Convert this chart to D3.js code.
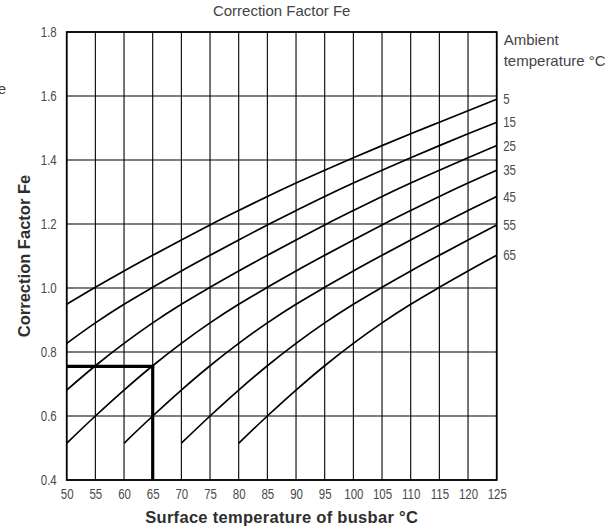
<!DOCTYPE html>
<html>
<head>
<meta charset="utf-8">
<script src="https://cdn.jsdelivr.net/npm/d3@7"></script>
<style>
  html, body { margin: 0; padding: 0; background: #fff; }
  svg { display: block; }
  .tick text, .narrow { font-family: "Liberation Sans", Arial, sans-serif; font-size: 14px; fill: #4a4a4a; }
</style>
</head>
<body>
<div id="chart"></div>
<script>
// correction factor fe vs surface temperature, one curve per ambient temperature

const surfaceTemps = [50, 55, 60, 65, 70, 75, 80, 85, 90, 95, 100, 105, 110, 115, 120, 125];
const feTicks = [0.4, 0.6, 0.8, 1.0, 1.2, 1.4, 1.6, 1.8];
const ambientTemps = [5, 15, 25, 35, 45, 55, 65];
const curveStart = [50, 50, 50, 50, 60, 70, 80];

// values, one per surface temp from the curve start
const fe05 = [0.949, 1.002, 1.053, 1.102, 1.150, 1.197, 1.242, 1.286, 1.328, 1.368, 1.407, 1.445, 1.482, 1.518, 1.554, 1.590];
const fe15 = [0.827, 0.891, 0.949, 1.002, 1.053, 1.102, 1.150, 1.197, 1.242, 1.286, 1.328, 1.368, 1.407, 1.445, 1.482, 1.518];
const fe25 = [0.681, 0.757, 0.827, 0.891, 0.949, 1.002, 1.053, 1.102, 1.150, 1.197, 1.242, 1.286, 1.328, 1.368, 1.407, 1.445];
const fe35 = [0.515, 0.600, 0.681, 0.757, 0.827, 0.891, 0.949, 1.002, 1.053, 1.102, 1.150, 1.197, 1.242, 1.286, 1.328, 1.368];
const fe45 = [0.515, 0.600, 0.681, 0.757, 0.827, 0.891, 0.949, 1.002, 1.053, 1.102, 1.150, 1.197, 1.242, 1.286];
const fe55 = [0.515, 0.600, 0.681, 0.757, 0.827, 0.891, 0.949, 1.002, 1.053, 1.102, 1.150, 1.197];
const fe65 = [0.515, 0.600, 0.681, 0.757, 0.827, 0.891, 0.949, 1.002, 1.053, 1.102];
const feSeries = [fe05, fe15, fe25, fe35, fe45, fe55, fe65];

// worked example drawn with thick lines
const exampleTs = 65;
const exampleFe = 0.755;

const W = 612, H = 529;
const margin = { top: 32, right: 115.3, bottom: 49, left: 66.7 };
const squeeze = 0.82; // condensed look for the small numbers

const svg = d3.select("#chart").append("svg")
  .attr("width", W)
  .attr("height", H);

svg.append("rect").attr("width", W).attr("height", H).attr("fill", "#fff");

const x = d3.scaleLinear()
  .domain([50, 125])
  .range([margin.left, W - margin.right]);

const y = d3.scaleLinear()
  .domain([0.4, 1.8])
  .range([H - margin.bottom, margin.top]);

// grid
const grid = svg.append("g").attr("stroke", "#000").attr("stroke-width", 1.1);
grid.selectAll(".vgrid")
  .data(surfaceTemps)
  .enter().append("line")
  .attr("x1", d => x(d)).attr("x2", d => x(d))
  .attr("y1", y(0.4)).attr("y2", y(1.8));
grid.selectAll(".hgrid")
  .data(feTicks)
  .enter().append("line")
  .attr("x1", x(50)).attr("x2", x(125))
  .attr("y1", d => y(d)).attr("y2", d => y(d));

// frame
svg.append("rect")
  .attr("x", x(50)).attr("y", y(1.8))
  .attr("width", x(125) - x(50)).attr("height", y(0.4) - y(1.8))
  .attr("fill", "none").attr("stroke", "#000").attr("stroke-width", 1.7);

// axes (labels only)
const xAxis = svg.append("g")
  .attr("transform", `translate(0,${y(0.4)})`)
  .call(d3.axisBottom(x).tickValues(surfaceTemps).tickSize(0).tickPadding(9).tickFormat(d3.format("d")));
xAxis.select(".domain").remove();
xAxis.selectAll(".tick text").attr("transform", `scale(${squeeze},1)`);

const yAxis = svg.append("g")
  .attr("transform", `translate(${x(50)},0)`)
  .call(d3.axisLeft(y).tickValues(feTicks).tickSize(0).tickPadding(10 / squeeze).tickFormat(d3.format(".1f")));
yAxis.select(".domain").remove();
yAxis.selectAll(".tick text").attr("transform", `scale(${squeeze},1)`);

// curves
const line = d3.line()
  .x(d => x(d[0]))
  .y(d => y(d[1]))
  .curve(d3.curveMonotoneX);

const curves = feSeries.map((vals, i) => vals.map((v, j) => [curveStart[i] + j * 5, v]));

svg.append("g").selectAll("path")
  .data(curves)
  .enter().append("path")
  .attr("d", line)
  .attr("fill", "none")
  .attr("stroke", "#000")
  .attr("stroke-width", 1.7);

// example lines
svg.append("line")
  .attr("x1", x(50)).attr("x2", x(exampleTs) + 1.5)
  .attr("y1", y(exampleFe)).attr("y2", y(exampleFe))
  .attr("stroke", "#000").attr("stroke-width", 3.2);
svg.append("line")
  .attr("x1", x(exampleTs)).attr("x2", x(exampleTs))
  .attr("y1", y(exampleFe)).attr("y2", y(0.4))
  .attr("stroke", "#000").attr("stroke-width", 3.2);

// curve labels
svg.append("g").selectAll("g")
  .data(curves)
  .enter().append("g")
  .attr("transform", d => `translate(${x(125) + 6.5},${y(d[d.length - 1][1])})`)
  .append("text")
  .attr("class", "narrow")
  .attr("dy", "0.36em")
  .attr("transform", `scale(${squeeze},1)`)
  .text((d, i) => ambientTemps[i]);

// legend heading
const legend = svg.append("text")
  .attr("font-family", "'Liberation Sans', Arial, sans-serif")
  .attr("font-size", "15px")
  .attr("fill", "#444");
legend.append("tspan").attr("x", x(125) + 7).attr("y", 45).text("Ambient");
legend.append("tspan").attr("x", x(125) + 7).attr("y", 66).text("temperature °C");

// title
svg.append("text")
  .attr("x", (x(50) + x(125)) / 2)
  .attr("y", 16)
  .attr("text-anchor", "middle")
  .attr("font-family", "'Liberation Sans', Arial, sans-serif")
  .attr("font-size", "15px")
  .attr("fill", "#444")
  .text("Correction Factor Fe");

// cut-off text at the left edge, as in the source page
svg.append("text")
  .attr("x", 6)
  .attr("y", 94)
  .attr("text-anchor", "end")
  .attr("font-family", "'Liberation Sans', Arial, sans-serif")
  .attr("font-size", "15px")
  .attr("fill", "#444")
  .text("Fe");

// axis titles
svg.append("text")
  .attr("x", (x(50) + x(125)) / 2)
  .attr("y", 523)
  .attr("text-anchor", "middle")
  .attr("font-family", "'Liberation Sans', Arial, sans-serif")
  .attr("font-size", "16.5px")
  .attr("font-weight", "700")
  .attr("letter-spacing", "0.3px")
  .attr("fill", "#2e2e2e")
  .text("Surface temperature of busbar °C");

svg.append("text")
  .attr("transform", `translate(29.5,${(y(0.4) + y(1.8)) / 2}) rotate(-90)`)
  .attr("text-anchor", "middle")
  .attr("font-family", "'Liberation Sans', Arial, sans-serif")
  .attr("font-size", "16.5px")
  .attr("font-weight", "700")
  .attr("fill", "#2e2e2e")
  .text("Correction Factor Fe");
</script>
</body>
</html>
